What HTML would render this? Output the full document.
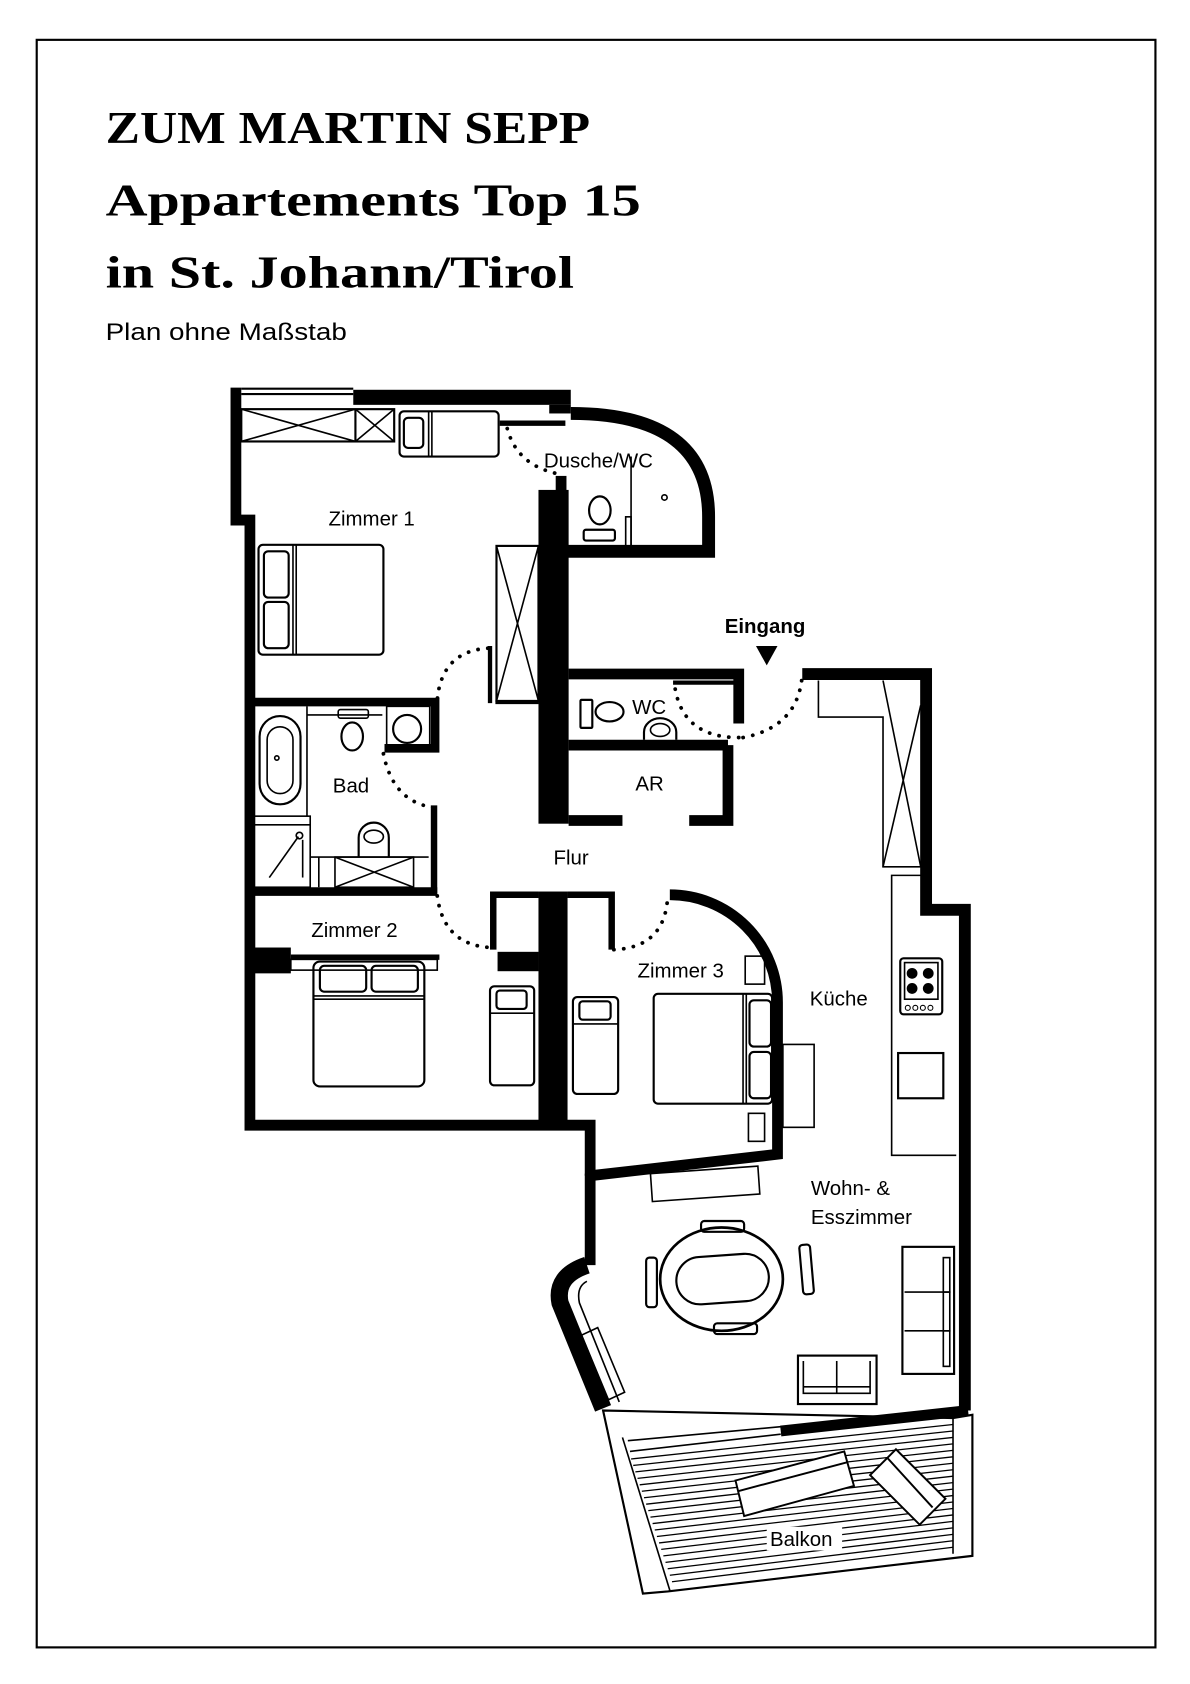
<!DOCTYPE html>
<html><head><meta charset="utf-8"><style>
html,body{margin:0;padding:0;background:#fff;}
svg{display:block;}
text{font-family:"Liberation Sans",sans-serif;fill:#000;}
</style></head><body>
<svg width="1190" height="1684" viewBox="0 0 1105 1564" xmlns="http://www.w3.org/2000/svg">
<rect x="34" y="37" width="1039" height="1493" fill="none" stroke="#000" stroke-width="2"/>
<g style="font-family:'Liberation Serif',serif;font-weight:bold">
<text x="98" y="133" font-size="42" textLength="450" lengthAdjust="spacingAndGlyphs" style="font-family:'Liberation Serif',serif">ZUM MARTIN SEPP</text>
<text x="98" y="200" font-size="42" textLength="497" lengthAdjust="spacingAndGlyphs" style="font-family:'Liberation Serif',serif">Appartements Top 15</text>
<text x="98" y="267" font-size="42" textLength="435" lengthAdjust="spacingAndGlyphs" style="font-family:'Liberation Serif',serif">in St. Johann/Tirol</text>
</g>
<text x="98" y="316" font-size="22" textLength="224" lengthAdjust="spacingAndGlyphs">Plan ohne Maßstab</text>

<g fill="none" stroke="#000" stroke-linejoin="miter">
<polyline points="219,360 219,483 232,483 232,1045 548,1045 548,1092" stroke-width="10"/>
<rect x="328" y="362" width="202" height="14" fill="#000" stroke="none"/>
<rect x="510" y="376" width="20" height="8" fill="#000" stroke="none"/>
<line x1="464" y1="393" x2="525" y2="393" stroke-width="5"/>
<line x1="224" y1="361" x2="328" y2="361" stroke-width="2"/>
<line x1="224" y1="366" x2="328" y2="366" stroke-width="2"/>
<rect x="224" y="380" width="142" height="30" stroke-width="2"/>
<line x1="224" y1="380" x2="330" y2="410" stroke-width="1.5"/><line x1="224" y1="410" x2="330" y2="380" stroke-width="1.5"/>
<line x1="330" y1="380" x2="330" y2="410" stroke-width="2"/>
<line x1="330" y1="380" x2="366" y2="410" stroke-width="1.5"/><line x1="330" y1="410" x2="366" y2="380" stroke-width="1.5"/>
<rect x="371" y="382" width="92" height="42" rx="4" stroke-width="2"/>
<rect x="375" y="388" width="18" height="28" rx="4" stroke-width="2"/>
<line x1="398" y1="382" x2="398" y2="424" stroke-width="1.5"/><line x1="401" y1="382" x2="401" y2="424" stroke-width="1.5"/>
<path d="M530,384 Q658,384 658,480 L658,512 L527,512" stroke-width="12"/>
<line x1="586" y1="424" x2="586" y2="508" stroke-width="1.5"/>
<rect x="581" y="480" width="5" height="28" stroke-width="1.5"/>
<circle cx="617" cy="462" r="2.5" stroke-width="1.5"/>
<ellipse cx="557" cy="474" rx="10" ry="13" stroke-width="2"/>
<rect x="542" y="492" width="29" height="10" rx="2" stroke-width="2"/>
<rect x="500" y="455" width="28" height="310" fill="#000" stroke="none"/>
<rect x="516" y="442" width="10" height="16" fill="#000" stroke="none"/>
<rect x="461" y="507" width="39" height="144" stroke-width="2"/>
<line x1="461" y1="507" x2="500" y2="651" stroke-width="1.5"/><line x1="500" y1="507" x2="461" y2="651" stroke-width="1.5"/>
<polyline points="461,650 461,653 500,653" stroke-width="2"/>
<line x1="455" y1="600" x2="455" y2="653" stroke-width="4"/>
<rect x="240" y="506" width="116" height="102" rx="4" stroke-width="2"/>
<rect x="245" y="512" width="23" height="43" rx="4" stroke-width="2"/>
<rect x="245" y="559" width="23" height="43" rx="4" stroke-width="2"/>
<line x1="272" y1="506" x2="272" y2="608" stroke-width="1.5"/><line x1="275" y1="506" x2="275" y2="608" stroke-width="1.5"/>
<polyline points="232,652 404,652 404,695 357,695" stroke-width="8"/>
<line x1="403" y1="748" x2="403" y2="830" stroke-width="6"/>
<line x1="232" y1="828" x2="406" y2="828" stroke-width="8"/>
<line x1="285" y1="656" x2="285" y2="758" stroke-width="1.5"/>
<rect x="241" y="665" width="38" height="82" rx="19" stroke-width="2"/>
<rect x="248" y="675" width="24" height="62" rx="12" stroke-width="1.5"/>
<circle cx="257" cy="704" r="2" stroke-width="1.5"/>
<line x1="285" y1="664" x2="355" y2="664" stroke-width="1.5"/>
<rect x="314" y="659" width="28" height="8" rx="2" stroke-width="1.5"/>
<ellipse cx="327" cy="684" rx="10" ry="13" stroke-width="2"/>
<rect x="359" y="656" width="40" height="38" stroke-width="1.5"/>
<circle cx="378" cy="677" r="13" stroke-width="2"/>
<rect x="236" y="758" width="52" height="66" stroke-width="1.5"/>
<line x1="236" y1="766" x2="288" y2="766" stroke-width="1.5"/>
<line x1="250" y1="815" x2="277" y2="777" stroke-width="1.5"/>
<circle cx="278" cy="776" r="3" stroke-width="1.5"/>
<line x1="281" y1="780" x2="281" y2="815" stroke-width="1.5"/>
<line x1="288" y1="796" x2="398" y2="796" stroke-width="1.5"/>
<line x1="296" y1="796" x2="296" y2="824" stroke-width="1.5"/>
<rect x="311" y="796" width="73" height="28" stroke-width="1.5"/>
<line x1="311" y1="796" x2="384" y2="824" stroke-width="1.5"/><line x1="311" y1="824" x2="384" y2="796" stroke-width="1.5"/>
<path d="M333,796 L333,778 A14,14 0 0 1 361,778 L361,796" stroke-width="2"/>
<ellipse cx="347" cy="777" rx="9" ry="6" stroke-width="1.5"/>
<rect x="232" y="880" width="38" height="24" fill="#000" stroke="none"/>
<line x1="270" y1="889" x2="408" y2="889" stroke-width="5"/>
<rect x="270" y="891" width="136" height="10" stroke-width="1.5"/>
<rect x="291" y="893" width="103" height="116" rx="6" stroke-width="2"/>
<rect x="297" y="897" width="43" height="24" rx="4" stroke-width="2"/>
<rect x="345" y="897" width="43" height="24" rx="4" stroke-width="2"/>
<line x1="291" y1="925" x2="394" y2="925" stroke-width="1.5"/><line x1="291" y1="928" x2="394" y2="928" stroke-width="1.5"/>
<polyline points="458,882 458,831 500,831" stroke-width="6"/>
<rect x="462" y="884" width="38" height="18" fill="#000" stroke="none"/>
<rect x="500" y="828" width="27" height="217" fill="#000" stroke="none"/>
<rect x="455" y="916" width="41" height="92" rx="4" stroke-width="2"/>
<rect x="461" y="920" width="28" height="17" rx="3" stroke-width="2"/>
<line x1="455" y1="941" x2="496" y2="941" stroke-width="1.5"/>
<polyline points="527,831 568,831 568,882" stroke-width="6"/>
<path d="M622,831 A100,100 0 0 1 722,931 L722,1072 L548,1092" stroke-width="10"/>
<rect x="532" y="926" width="42" height="90" rx="4" stroke-width="2"/>
<rect x="538" y="930" width="29" height="17" rx="3" stroke-width="2"/>
<line x1="532" y1="951" x2="574" y2="951" stroke-width="1.5"/>
<rect x="607" y="923" width="110" height="102" rx="4" stroke-width="2"/>
<line x1="690" y1="923" x2="690" y2="1025" stroke-width="1.5"/><line x1="693" y1="923" x2="693" y2="1025" stroke-width="1.5"/>
<rect x="696" y="929" width="20" height="43" rx="4" stroke-width="2"/>
<rect x="696" y="977" width="20" height="43" rx="4" stroke-width="2"/>
<rect x="692" y="888" width="18" height="26" stroke-width="1.5"/>
<rect x="695" y="1034" width="15" height="26" stroke-width="1.5"/>
<rect x="727" y="970" width="29" height="77" stroke-width="1.5"/>
<polyline points="528,626 686,626 686,672" stroke-width="10"/>
<line x1="625" y1="634" x2="683" y2="634" stroke-width="4"/>
<line x1="528" y1="692" x2="676" y2="692" stroke-width="10"/>
<polyline points="676,692 676,762 640,762" stroke-width="10"/>
<line x1="528" y1="762" x2="578" y2="762" stroke-width="10"/>
<rect x="539" y="650" width="11" height="26" rx="1" stroke-width="2"/>
<ellipse cx="566" cy="661" rx="13" ry="9" stroke-width="2"/>
<path d="M598,687 L598,680 A15,13 0 0 1 628,680 L628,687" stroke-width="2"/>
<ellipse cx="613" cy="678" rx="9" ry="6" stroke-width="1.5"/>
<polyline points="745,626 860,626 860,845 896,845 896,1310" stroke-width="11"/>
<path d="M899,1310 L725,1329" stroke-width="10"/>
<polyline points="760,632 760,666 820,666 820,805 856,805" stroke-width="1.5"/>
<line x1="820" y1="632" x2="855" y2="805" stroke-width="1.5"/><line x1="855" y1="655" x2="820" y2="805" stroke-width="1.5"/>
<polyline points="856,813 828,813 828,1073 888,1073" stroke-width="1.5"/>
<rect x="836" y="890" width="39" height="52" rx="3" stroke-width="2"/>
<rect x="840" y="894" width="31" height="34" stroke-width="1.5"/>
<rect x="834" y="978" width="42" height="42" stroke-width="2"/>
<line x1="548" y1="1090" x2="548" y2="1175" stroke-width="10"/>
<path d="M545,1175 Q515,1185 520,1210 L560,1308" stroke-width="16"/>
<path d="M545,1190 Q535,1195 538,1210 L575,1302" stroke-width="1.5"/>
<polygon points="580,1293 565,1300 540,1240 555,1233" stroke-width="1.5"/>
<rect x="604" y="1090" width="100" height="26" transform="rotate(-4 604 1090)" stroke-width="1.5"/>
<ellipse cx="670" cy="1188" rx="57" ry="48" stroke-width="2.5"/>
<rect x="628" y="1166" width="86" height="44" rx="22" stroke-width="2" transform="rotate(-4 670 1188)"/>
<rect x="651" y="1134" width="40" height="10" rx="3" stroke-width="2"/>
<rect x="663" y="1229" width="40" height="10" rx="3" stroke-width="2"/>
<rect x="600" y="1168" width="10" height="46" rx="3" stroke-width="2"/>
<rect x="744" y="1156" width="10" height="46" rx="3" stroke-width="2" transform="rotate(-5 749 1179)"/>
<rect x="838" y="1158" width="48" height="118" stroke-width="2"/>
<rect x="876" y="1168" width="6" height="32" stroke-width="1.5"/>
<rect x="876" y="1200" width="6" height="36" stroke-width="1.5"/>
<rect x="876" y="1236" width="6" height="33" stroke-width="1.5"/>
<line x1="840" y1="1200" x2="876" y2="1200" stroke-width="1.5"/><line x1="840" y1="1236" x2="876" y2="1236" stroke-width="1.5"/>
<rect x="741" y="1259" width="73" height="45" stroke-width="2"/>
<polyline points="746,1264 746,1294 808,1294 808,1264" stroke-width="1.5"/>
<line x1="777" y1="1264" x2="777" y2="1294" stroke-width="1.5"/>
<line x1="746" y1="1288" x2="808" y2="1288" stroke-width="1.5"/>
<polygon points="560,1310 597,1480 620,1478 903,1445 903,1314 885,1317" stroke-width="2"/>
<polyline points="578,1335 622,1477" stroke-width="1.5"/>
<polyline points="885,1317 885,1443" stroke-width="1.5"/>
<polyline points="583,1338 725,1325" stroke-width="1.5"/>
<polyline points="585,1348 725,1332" stroke-width="1.5"/>
</g>
<g stroke="#000" stroke-width="1.2">
<line x1="586" y1="1355" x2="885" y2="1323"/>
<line x1="588" y1="1361" x2="885" y2="1329"/>
<line x1="590" y1="1367" x2="885" y2="1335"/>
<line x1="592" y1="1373" x2="885" y2="1341"/>
<line x1="594" y1="1379" x2="885" y2="1347"/>
<line x1="596" y1="1385" x2="885" y2="1353"/>
<line x1="598" y1="1391" x2="885" y2="1359"/>
<line x1="600" y1="1397" x2="885" y2="1365"/>
<line x1="602" y1="1403" x2="885" y2="1371"/>
<line x1="604" y1="1409" x2="885" y2="1377"/>
<line x1="606" y1="1415" x2="885" y2="1383"/>
<line x1="608" y1="1421" x2="885" y2="1389"/>
<line x1="610" y1="1427" x2="885" y2="1395"/>
<line x1="612" y1="1433" x2="885" y2="1401"/>
<line x1="614" y1="1439" x2="885" y2="1407"/>
<line x1="616" y1="1445" x2="885" y2="1413"/>
<line x1="618" y1="1451" x2="885" y2="1419"/>
<line x1="620" y1="1457" x2="885" y2="1425"/>
<line x1="622" y1="1463" x2="885" y2="1431"/>
<line x1="624" y1="1469" x2="885" y2="1437"/>
</g>
<g fill="#fff" stroke="#000" stroke-width="1.8">
<polygon points="683,1375 784,1348 793,1380 691,1408"/>
<line x1="685" y1="1385" x2="787" y2="1358"/>
<polygon points="808,1370 832,1346 878,1392 854,1416"/>
<line x1="824" y1="1354" x2="866" y2="1400"/>
<rect x="712" y="1418" width="70" height="22" stroke="none"/>
</g>
<g fill="none" stroke="#000" stroke-width="3.5" stroke-dasharray="0.1 9" stroke-linecap="round">
<path d="M471,398 Q480,432 518,440"/>
<path d="M453,602 Q410,605 406,650"/>
<path d="M356,700 Q365,745 403,750"/>
<path d="M406,832 Q412,878 456,880"/>
<path d="M570,882 Q618,880 620,832"/>
<path d="M627,640 Q635,685 686,685"/>
<path d="M690,685 Q742,675 745,626"/>
</g>
<g fill="#000"><circle cx="847" cy="904" r="5"/><circle cx="862" cy="904" r="5"/><circle cx="847" cy="918" r="5"/><circle cx="862" cy="918" r="5"/></g>
<g fill="none" stroke="#000" stroke-width="1"><circle cx="843" cy="936" r="2.3"/><circle cx="850" cy="936" r="2.3"/><circle cx="857" cy="936" r="2.3"/><circle cx="864" cy="936" r="2.3"/></g>
<polygon points="702,600 722,600 712,618" fill="#000"/>
<g font-size="19">
<text x="505" y="434">Dusche/WC</text>
<text x="305" y="488">Zimmer 1</text>
<text x="587" y="663">WC</text>
<text x="590" y="734">AR</text>
<text x="309" y="736">Bad</text>
<text x="514" y="803">Flur</text>
<text x="289" y="870">Zimmer 2</text>
<text x="592" y="908">Zimmer 3</text>
<text x="752" y="934">Küche</text>
<text x="753" y="1110">Wohn- &amp;</text>
<text x="753" y="1137">Esszimmer</text>
<text x="715" y="1436">Balkon</text>
<text x="673" y="588" font-weight="bold" font-size="19">Eingang</text>
</g>
</svg>
</body></html>
